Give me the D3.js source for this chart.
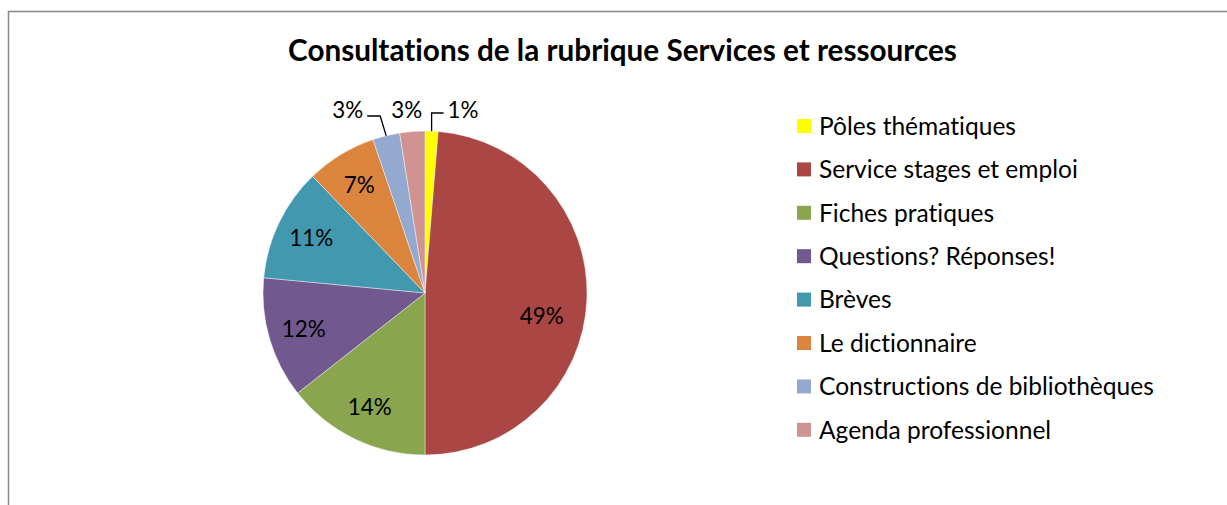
<!DOCTYPE html>
<html>
<head>
<meta charset="utf-8">
<script src="https://cdn.jsdelivr.net/npm/d3@7"></script>
<style>
  html, body { margin: 0; padding: 0; background: #fff; }
  svg { display: block; }
  text { font-family: Lato, "Open Sans", sans-serif; fill: #000; font-variant-ligatures: none; font-feature-settings: "liga" 0, "clig" 0; }
</style>
</head>
<body>
<svg id="chart" width="1227" height="505"></svg>
<script>
// ---- data ----
const categories = [
  "Pôles thématiques",
  "Service stages et emploi",
  "Fiches pratiques",
  "Questions? Réponses!",
  "Brèves",
  "Le dictionnaire",
  "Constructions de bibliothèques",
  "Agenda professionnel"
];
const values = [1.3, 48.7, 14.4, 12.1, 11.3, 7.0, 2.7, 2.5];
const colors = ["#FFFF00", "#AA4643", "#89A54E", "#71588F", "#4198AF", "#DB843D", "#93A9CF", "#D19392"];
const title = "Consultations de la rubrique Services et ressources";

// ---- layout ----
const svg = d3.select("#chart");
const W = 1227, H = 505;
const cx = 425, cy = 293, R = 162;

// chart border
svg.append("rect")
  .attr("x", 8.5).attr("y", 11.5)
  .attr("width", W + 20).attr("height", H + 20)
  .attr("fill", "#fff").attr("stroke", "#878787").attr("stroke-width", 1.5);

function fitFont(sel, targetW, start) {
  sel.style("font-size", start + "px");
  const w = sel.node().getComputedTextLength();
  const fs = start * targetW / w;
  sel.style("font-size", fs + "px");
  return fs;
}

// title
const t = svg.append("text")
  .attr("x", 622.5).attr("y", 61)
  .attr("text-anchor", "middle")
  .style("font-weight", "bold")
  .text(title);
fitFont(t, 669, 24);

// pie
const data = categories.map((c, i) => ({ name: c, value: values[i], color: colors[i] }));
const pie = d3.pie().sort(null).value(d => d.value).startAngle(0).endAngle(2 * Math.PI);
const arcs = pie(data);
const arc = d3.arc().innerRadius(0).outerRadius(R);

const g = svg.append("g").attr("transform", `translate(${cx},${cy})`);
g.selectAll("path.slice")
  .data(arcs)
  .join("path")
  .attr("class", "slice")
  .attr("d", arc)
  .attr("fill", d => d.data.color)
  .attr("stroke", "#fff")
  .attr("stroke-width", 0.6)
  .attr("stroke-opacity", 0.7);

// percent labels
const fmt = v => Math.round(v) + "%";
const probe = svg.append("text").text("12%");
const labelFs = fitFont(probe, 44, 24);
probe.remove();

const pt = (ang, r) => [r * Math.sin(ang), -r * Math.cos(ang)];
const deg = Math.PI / 180;

arcs.forEach((d, i) => {
  const mid = (d.startAngle + d.endAngle) / 2;
  const frac = (d.endAngle - d.startAngle) / (2 * Math.PI);
  const label = fmt(d.data.value);
  if (frac > 0.4) {
    // large slice: label pulled toward the centre
    const [x, y] = pt(mid + 9 * deg, 0.735 * R);
    g.append("text").attr("x", x).attr("y", y).attr("dy", "0.36em")
      .attr("text-anchor", "middle").style("font-size", labelFs + "px").text(label);
  } else if (frac > 0.05) {
    const [x, y] = pt(mid, 0.78 * R);
    g.append("text").attr("x", x).attr("y", y).attr("dy", "0.36em")
      .attr("text-anchor", "middle").style("font-size", labelFs + "px").text(label);
  } else {
    // small slices: outside labels
    const [ex, ey] = pt(mid, R);
    const [ox] = pt(mid, 1.12 * R);
    let lx, anchor, leader = null;
    const labelY = -R - 21; // above the pie top
    if (i === 0) {
      const elbowY = -R - 18;
      leader = [[ex, ey], [ex, elbowY], [ex + 12, elbowY]];
      lx = ex + 16; anchor = "start";
    } else if (i === categories.length - 2) {
      const elbowY = -R - 15;
      const elbowX = ex - 6;
      leader = [[ex, ey], [elbowX, elbowY], [elbowX - 13, elbowY]];
      lx = elbowX - 17; anchor = "end";
    } else {
      lx = ox - 4; anchor = "middle";
    }
    if (leader) {
      g.append("path")
        .attr("d", d3.line()(leader))
        .attr("fill", "none").attr("stroke", "#000").attr("stroke-width", 1.3);
    }
    g.append("text").attr("x", lx).attr("y", labelY).attr("dy", "0.36em")
      .attr("text-anchor", anchor).style("font-size", labelFs + "px").text(label);
  }
});

// legend
const legY0 = 126, legStep = 43.4;
const legend = svg.append("g");
const items = legend.selectAll("g.item").data(data).join("g").attr("class", "item")
  .attr("transform", (d, i) => `translate(797, ${legY0 + i * legStep})`);
items.append("rect").attr("x", 0).attr("y", -7).attr("width", 14).attr("height", 14)
  .attr("fill", d => d.color);
const legTexts = items.append("text").attr("x", 22).attr("y", 0).attr("dy", "0.36em")
  .text(d => d.name);
const longest = legTexts.filter((d, i) => i === 6);
const legFs = fitFont(longest, 335, 20);
legTexts.style("font-size", legFs + "px");
</script>
</body>
</html>
